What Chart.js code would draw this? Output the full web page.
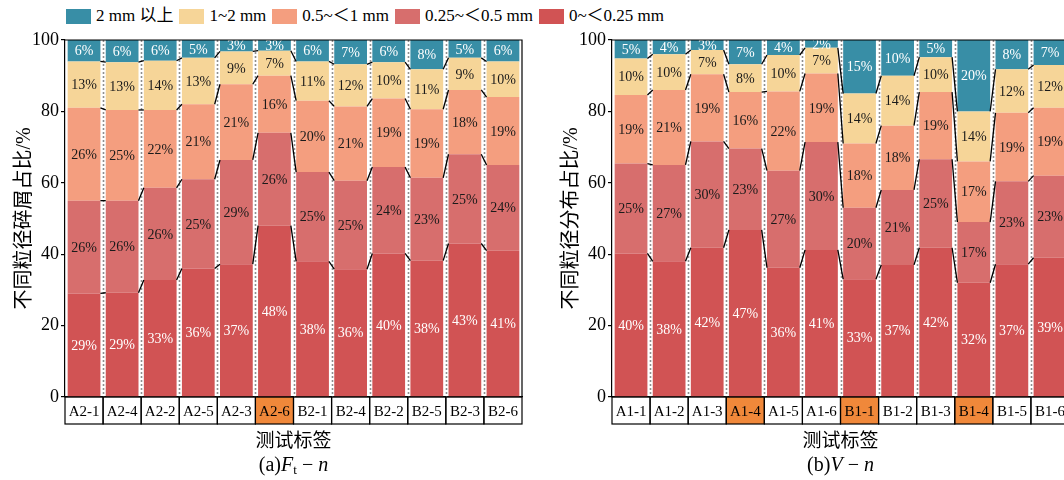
<!DOCTYPE html>
<html>
<head>
<meta charset="utf-8">
<script src="https://cdn.jsdelivr.net/npm/chart.js@4/dist/chart.umd.min.js"></script>
<style>
  html, body { margin: 0; padding: 0; background: #fff; overflow: hidden; }
  #stage { position: relative; width: 1064px; height: 480px; overflow: hidden;
           font-family: 'Liberation Serif', 'Noto Sans CJK SC', serif; color: #000; }
  .panel { position: absolute; top: 0; width: 540px; height: 480px; }
  #legend { position: absolute; left: 66px; top: 5px; display: flex; align-items: center;
            font-size: 17px; white-space: nowrap; line-height: 22px; }
  .item { display: flex; align-items: center; margin-right: 6px; }
  .sw { width: 25px; height: 15px; margin-right: 5px; }
  .cap { position: absolute; top: 453px; font-size: 20px; line-height: 22px;
         transform: translateX(-50%); white-space: nowrap; }
  .cap sub { font-size: 13px; vertical-align: -3px; line-height: 0; }
</style>
</head>
<body>
<div id="stage">
  <div id="legend"></div>
  <canvas id="chartA" class="panel" width="540" height="480" style="left:0px"></canvas>
  <canvas id="chartB" class="panel" width="540" height="480" style="left:547px"></canvas>
  <div class="cap" style="left:293.5px">(a)<i>F</i><sub>t</sub> − <i>n</i></div>
  <div class="cap" style="left:840.5px">(b)<i>V</i> − <i>n</i></div>
</div>
<script>
// Particle size classes, bottom of the stack first
const sizeClasses = ['0~＜0.25 mm', '0.25~＜0.5 mm', '0.5~＜1 mm', '1~2 mm', '2 mm 以上'];
const classColors = ['#D15354', '#D76E6D', '#F49E7F', '#F6D598', '#388EA6'];

// (a) Ft - n tests
const labelsA = ['A2-1', 'A2-4', 'A2-2', 'A2-5', 'A2-3', 'A2-6', 'B2-1', 'B2-4', 'B2-2', 'B2-5', 'B2-3', 'B2-6'];
const highlightA = ['A2-6'];
const a_0_025  = [29, 29.2, 32.8, 36, 37.2, 48, 38, 35.8, 40.2, 38.2, 43, 41];
const a_025_05 = [26, 25.8, 25.8, 25, 29.2, 26, 25, 24.8, 24.2, 23.2, 25, 24];
const a_05_1   = [26, 25.4, 21.8, 21, 21.2, 16, 20, 20.8, 19.2, 19.2, 18, 19];
const a_1_2    = [13, 13.4, 13.8, 13, 9.2, 7, 11, 11.8, 10.2, 11.2, 9, 10];
const a_2up    = [6, 6.2, 5.8, 5, 3.2, 3, 6, 6.8, 6.2, 8.2, 5, 6];

// (b) V - n tests
const labelsB = ['A1-1', 'A1-2', 'A1-3', 'A1-4', 'A1-5', 'A1-6', 'B1-1', 'B1-2', 'B1-3', 'B1-4', 'B1-5', 'B1-6'];
const highlightB = ['A1-4', 'B1-1', 'B1-4'];
const b_0_025  = [40.2, 38, 41.8, 46.8, 36.2, 41.2, 33, 37, 41.8, 32, 37.2, 39];
const b_025_05 = [25.2, 27, 29.8, 22.8, 27.2, 30.2, 20, 21, 24.8, 17, 23.2, 23];
const b_05_1   = [19.2, 21, 18.8, 15.8, 22.2, 19.2, 18, 18, 18.8, 17, 19.2, 19];
const b_1_2    = [10.2, 10, 6.8, 7.8, 10.2, 7.2, 14, 14, 9.8, 14, 12.2, 12];
const b_2up    = [5.2, 4, 2.8, 6.8, 4.2, 2.2, 15, 10, 4.8, 20, 8.2, 7];

const yTicks = [0, 20, 40, 60, 80, 100];

const SERIF = "'Liberation Serif', 'Noto Sans CJK SC', serif";
const CELL_H = 27;
const HILITE = '#F0883A';

// Shared legend, largest class first
const legendEl = document.getElementById('legend');
for (let k = sizeClasses.length - 1; k >= 0; k--) {
  const item = document.createElement('div');
  item.className = 'item';
  const sw = document.createElement('div');
  sw.className = 'sw';
  sw.style.background = classColors[k];
  const tx = document.createElement('span');
  tx.textContent = sizeClasses[k];
  item.appendChild(sw);
  item.appendChild(tx);
  legendEl.appendChild(item);
}

function buildPanel(canvasId, labels, series, highlighted, yTitle) {
  const datasets = series.map((values, k) => ({
    label: sizeClasses[k],
    data: values,
    backgroundColor: classColors[k],
    borderWidth: 0,
    barPercentage: 0.86,
    categoryPercentage: 1
  }));

  const decor = {
    id: 'decor',
    beforeDraw(chart) {
      // highlighted cells of the label table
      const { ctx, chartArea } = chart;
      const x = chart.scales.x;
      const half = x.width / labels.length / 2;
      ctx.save();
      ctx.fillStyle = HILITE;
      labels.forEach((lab, i) => {
        if (highlighted.includes(lab)) {
          const cx = x.getPixelForValue(i);
          ctx.fillRect(cx - half, chartArea.bottom, half * 2, CELL_H);
        }
      });
      ctx.restore();
    },
    beforeDatasetsDraw(chart) {
      // dotted separators between the columns
      const { ctx, chartArea } = chart;
      const x = chart.scales.x;
      ctx.save();
      ctx.strokeStyle = '#8f8f8f';
      ctx.lineWidth = 1.6;
      ctx.setLineDash([2, 2]);
      for (let i = 0; i < labels.length - 1; i++) {
        const xs = Math.round((x.getPixelForValue(i) + x.getPixelForValue(i + 1)) / 2) + 0.5;
        ctx.beginPath();
        ctx.moveTo(xs, chartArea.top);
        ctx.lineTo(xs, chartArea.bottom);
        ctx.stroke();
      }
      ctx.restore();
    },
    afterDatasetsDraw(chart) {
      const { ctx } = chart;
      ctx.save();
      // series lines joining the class boundaries of neighbouring columns
      ctx.strokeStyle = '#000';
      ctx.lineWidth = 1.3;
      for (let k = 0; k < series.length - 1; k++) {
        const els = chart.getDatasetMeta(k).data;
        for (let i = 0; i < els.length - 1; i++) {
          const p = els[i].getProps(['x', 'y', 'width'], true);
          const q = els[i + 1].getProps(['x', 'y', 'width'], true);
          ctx.beginPath();
          ctx.moveTo(p.x + p.width / 2, p.y);
          ctx.lineTo(q.x - q.width / 2, q.y);
          ctx.stroke();
        }
      }
      // percentage labels
      ctx.font = '14px ' + SERIF;
      ctx.textAlign = 'center';
      ctx.textBaseline = 'middle';
      series.forEach((values, k) => {
        const els = chart.getDatasetMeta(k).data;
        ctx.fillStyle = (k === 0 || k === series.length - 1) ? '#fff' : '#1a1a1a';
        els.forEach((el, i) => {
          const p = el.getProps(['x', 'y', 'base'], true);
          ctx.fillText(Math.round(values[i]) + '%', p.x, (p.y + p.base) / 2 + 1);
        });
      });
      ctx.restore();
    },
    afterDraw(chart) {
      const { ctx, chartArea } = chart;
      const x = chart.scales.x;
      const half = x.width / labels.length / 2;
      ctx.save();
      ctx.strokeStyle = '#000';
      ctx.lineWidth = 1.2;
      // top and right edges of the plot frame
      ctx.beginPath();
      ctx.moveTo(chartArea.left, chartArea.top);
      ctx.lineTo(chartArea.right, chartArea.top);
      ctx.lineTo(chartArea.right, chartArea.bottom);
      ctx.stroke();
      // label table cells
      labels.forEach((lab, i) => {
        const cx = x.getPixelForValue(i);
        ctx.strokeRect(cx - half, chartArea.bottom, half * 2, CELL_H);
      });
      ctx.restore();
    }
  };

  return new Chart(document.getElementById(canvasId), {
    type: 'bar',
    data: { labels: labels, datasets: datasets },
    plugins: [decor],
    options: {
      responsive: false,
      animation: false,
      devicePixelRatio: 1,
      layout: { padding: { top: 40, right: 18, left: 0, bottom: 0 } },
      plugins: { legend: { display: false }, tooltip: { enabled: false } },
      scales: {
        x: {
          stacked: true,
          grid: { display: false, drawTicks: false },
          border: { color: '#000', width: 1.2 },
          ticks: { color: '#000', font: { family: SERIF, size: 15 }, padding: 6,
                   maxRotation: 0, autoSkip: false },
          title: { display: true, text: '测试标签', color: '#000',
                   font: { family: SERIF, size: 19 }, padding: { top: 0, bottom: 27 } },
          afterFit(s) { s.height = 83; }
        },
        y: {
          stacked: true,
          min: 0,
          max: 100,
          afterBuildTicks(s) { s.ticks = yTicks.map(v => ({ value: v })); },
          ticks: { color: '#000', font: { family: SERIF, size: 18 }, padding: 2 },
          grid: { drawOnChartArea: false, drawTicks: true, tickLength: 4, color: '#000', lineWidth: 1.2 },
          border: { color: '#000', width: 1.2 },
          title: { display: true, text: yTitle, color: '#000',
                   font: { family: SERIF, size: 20 }, padding: { top: 13, bottom: 0 } },
          afterFit(s) { s.width = 65; }
        }
      }
    }
  });
}

buildPanel('chartA', labelsA, [a_0_025, a_025_05, a_05_1, a_1_2, a_2up], highlightA, '不同粒径碎屑占比/%');
buildPanel('chartB', labelsB, [b_0_025, b_025_05, b_05_1, b_1_2, b_2up], highlightB, '不同粒径分布占比/%');
</script>
</body>
</html>
